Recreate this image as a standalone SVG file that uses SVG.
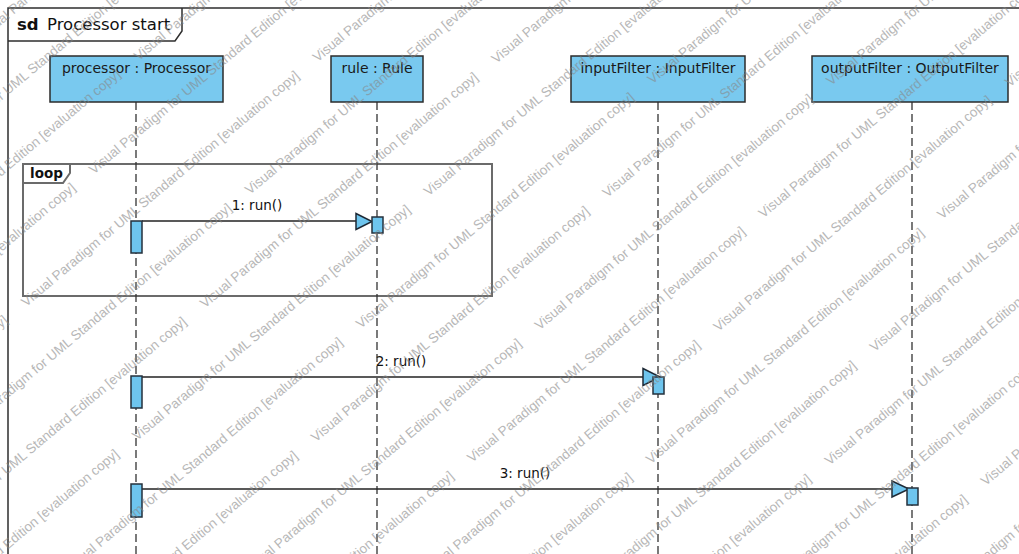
<svg xmlns="http://www.w3.org/2000/svg" width="1019" height="554" viewBox="0 0 1019 554">
<style>
.frame{fill:none;stroke:#2e2e2e;stroke-width:1.5}
.loopf{fill:none;stroke:#6b6b6b;stroke-width:2}
.title{font-family:"DejaVu Sans",sans-serif;font-size:16.5px;fill:#111}
.lbl{font-family:"DejaVu Sans",sans-serif;font-size:14px;fill:#1a1a1a;text-anchor:middle}
.head{fill:#79c9ef;stroke:#2b2b2b;stroke-width:1.5}
.act{fill:#6ec5ee;stroke:#25313c;stroke-width:1.5}
.life{stroke:#333;stroke-width:1.3;stroke-dasharray:8 4;fill:none}
.msg{stroke:#222;stroke-width:1.3;fill:none}
.arrow{fill:#6ec5ee;stroke:#1e2a36;stroke-width:1.5}
.mlbl{font-family:"DejaVu Sans",sans-serif;font-size:13.5px;fill:#111;text-anchor:middle}
.wm{font-family:"Liberation Sans",Arial,sans-serif;font-size:13.5px;fill:#888;opacity:.6}
</style>
<rect width="1019" height="554" fill="#fff"/>
<g id="frame-sd">
<rect class="frame" x="8" y="8" width="1040" height="580"/>
<path class="frame" d="M8,41 H175 L182,31 V8"/>
<text class="title" x="17" y="30" font-weight="bold">sd</text>
<text class="title" x="47" y="30">Processor start</text>
</g>
<g id="frame-loop">
<rect class="loopf" x="23" y="164" width="469" height="132"/>
<path class="loopf" d="M23,183 H63 L70,173 V164"/>
<text x="30" y="178" font-family="DejaVu Sans, sans-serif" font-size="13.5" font-weight="bold" fill="#111">loop</text>
</g>
<g id="processor">
<line class="life" x1="136" y1="102" x2="136" y2="554"/>
<rect class="head" x="50" y="56" width="173" height="46"/>
<text class="lbl" x="136.5" y="73">processor : Processor</text>
</g>
<g id="rule">
<line class="life" x1="377" y1="102" x2="377" y2="554"/>
<rect class="head" x="331" y="56" width="92" height="46"/>
<text class="lbl" x="377" y="73">rule : Rule</text>
</g>
<g id="inputFilter">
<line class="life" x1="658" y1="102" x2="658" y2="554"/>
<rect class="head" x="571" y="56" width="174" height="46"/>
<text class="lbl" x="658" y="73">inputFilter : InputFilter</text>
</g>
<g id="outputFilter">
<line class="life" x1="912" y1="102" x2="912" y2="554"/>
<rect class="head" x="812" y="56" width="196" height="46"/>
<text class="lbl" x="910" y="73">outputFilter : OutputFilter</text>
</g>
<g id="connectors">
<line class="msg" x1="142" y1="221" x2="357" y2="221"/>
<path class="arrow" d="M356,213.5 L372,221.5 L356,229.5 Z"/>
<text class="mlbl" x="257" y="210">1: run()</text>
<line class="msg" x1="142" y1="377" x2="644" y2="377"/>
<path class="arrow" d="M643,368.5 L660,377 L643,385.5 Z"/>
<text class="mlbl" x="401" y="366">2: run()</text>
<line class="msg" x1="142" y1="489" x2="893" y2="489"/>
<path class="arrow" d="M892,481 L909,489 L892,497 Z"/>
<text class="mlbl" x="525" y="478">3: run()</text>
</g>
<g id="activations">
<rect class="act" x="131" y="221" width="11" height="32"/>
<rect class="act" x="372" y="217" width="11" height="16"/>
<rect class="act" x="131" y="376" width="11" height="32"/>
<rect class="act" x="653" y="377" width="11" height="17"/>
<rect class="act" x="131" y="484" width="11" height="33"/>
<rect class="act" x="907" y="488" width="11" height="17"/>
</g>
<g id="watermark" transform="rotate(-40)">
<text class="wm" x="-420" y="20">Visual Paradigm for UML Standard Edition [evaluation copy]&#160;&#160;&#160;&#160;&#160;&#160;Visual Paradigm for UML Standard Edition [evaluation copy]&#160;&#160;&#160;&#160;&#160;&#160;Visual Paradigm for UML Standard Edition [evaluation copy]&#160;&#160;&#160;&#160;&#160;&#160;Visual Paradigm for UML Standard Edition [evaluation copy]&#160;&#160;&#160;&#160;&#160;&#160;Visual Paradigm for UML Standard Edition [evaluation copy]</text>
<text class="wm" x="-557" y="78">Visual Paradigm for UML Standard Edition [evaluation copy]&#160;&#160;&#160;&#160;&#160;&#160;Visual Paradigm for UML Standard Edition [evaluation copy]&#160;&#160;&#160;&#160;&#160;&#160;Visual Paradigm for UML Standard Edition [evaluation copy]&#160;&#160;&#160;&#160;&#160;&#160;Visual Paradigm for UML Standard Edition [evaluation copy]&#160;&#160;&#160;&#160;&#160;&#160;Visual Paradigm for UML Standard Edition [evaluation copy]</text>
<text class="wm" x="-694" y="136">Visual Paradigm for UML Standard Edition [evaluation copy]&#160;&#160;&#160;&#160;&#160;&#160;Visual Paradigm for UML Standard Edition [evaluation copy]&#160;&#160;&#160;&#160;&#160;&#160;Visual Paradigm for UML Standard Edition [evaluation copy]&#160;&#160;&#160;&#160;&#160;&#160;Visual Paradigm for UML Standard Edition [evaluation copy]&#160;&#160;&#160;&#160;&#160;&#160;Visual Paradigm for UML Standard Edition [evaluation copy]</text>
<text class="wm" x="-421" y="194">Visual Paradigm for UML Standard Edition [evaluation copy]&#160;&#160;&#160;&#160;&#160;&#160;Visual Paradigm for UML Standard Edition [evaluation copy]&#160;&#160;&#160;&#160;&#160;&#160;Visual Paradigm for UML Standard Edition [evaluation copy]&#160;&#160;&#160;&#160;&#160;&#160;Visual Paradigm for UML Standard Edition [evaluation copy]&#160;&#160;&#160;&#160;&#160;&#160;Visual Paradigm for UML Standard Edition [evaluation copy]</text>
<text class="wm" x="-558" y="252">Visual Paradigm for UML Standard Edition [evaluation copy]&#160;&#160;&#160;&#160;&#160;&#160;Visual Paradigm for UML Standard Edition [evaluation copy]&#160;&#160;&#160;&#160;&#160;&#160;Visual Paradigm for UML Standard Edition [evaluation copy]&#160;&#160;&#160;&#160;&#160;&#160;Visual Paradigm for UML Standard Edition [evaluation copy]&#160;&#160;&#160;&#160;&#160;&#160;Visual Paradigm for UML Standard Edition [evaluation copy]</text>
<text class="wm" x="-695" y="310">Visual Paradigm for UML Standard Edition [evaluation copy]&#160;&#160;&#160;&#160;&#160;&#160;Visual Paradigm for UML Standard Edition [evaluation copy]&#160;&#160;&#160;&#160;&#160;&#160;Visual Paradigm for UML Standard Edition [evaluation copy]&#160;&#160;&#160;&#160;&#160;&#160;Visual Paradigm for UML Standard Edition [evaluation copy]&#160;&#160;&#160;&#160;&#160;&#160;Visual Paradigm for UML Standard Edition [evaluation copy]</text>
<text class="wm" x="-422" y="368">Visual Paradigm for UML Standard Edition [evaluation copy]&#160;&#160;&#160;&#160;&#160;&#160;Visual Paradigm for UML Standard Edition [evaluation copy]&#160;&#160;&#160;&#160;&#160;&#160;Visual Paradigm for UML Standard Edition [evaluation copy]&#160;&#160;&#160;&#160;&#160;&#160;Visual Paradigm for UML Standard Edition [evaluation copy]&#160;&#160;&#160;&#160;&#160;&#160;Visual Paradigm for UML Standard Edition [evaluation copy]</text>
<text class="wm" x="-559" y="426">Visual Paradigm for UML Standard Edition [evaluation copy]&#160;&#160;&#160;&#160;&#160;&#160;Visual Paradigm for UML Standard Edition [evaluation copy]&#160;&#160;&#160;&#160;&#160;&#160;Visual Paradigm for UML Standard Edition [evaluation copy]&#160;&#160;&#160;&#160;&#160;&#160;Visual Paradigm for UML Standard Edition [evaluation copy]&#160;&#160;&#160;&#160;&#160;&#160;Visual Paradigm for UML Standard Edition [evaluation copy]</text>
<text class="wm" x="-696" y="484">Visual Paradigm for UML Standard Edition [evaluation copy]&#160;&#160;&#160;&#160;&#160;&#160;Visual Paradigm for UML Standard Edition [evaluation copy]&#160;&#160;&#160;&#160;&#160;&#160;Visual Paradigm for UML Standard Edition [evaluation copy]&#160;&#160;&#160;&#160;&#160;&#160;Visual Paradigm for UML Standard Edition [evaluation copy]&#160;&#160;&#160;&#160;&#160;&#160;Visual Paradigm for UML Standard Edition [evaluation copy]</text>
<text class="wm" x="-423" y="542">Visual Paradigm for UML Standard Edition [evaluation copy]&#160;&#160;&#160;&#160;&#160;&#160;Visual Paradigm for UML Standard Edition [evaluation copy]&#160;&#160;&#160;&#160;&#160;&#160;Visual Paradigm for UML Standard Edition [evaluation copy]&#160;&#160;&#160;&#160;&#160;&#160;Visual Paradigm for UML Standard Edition [evaluation copy]&#160;&#160;&#160;&#160;&#160;&#160;Visual Paradigm for UML Standard Edition [evaluation copy]</text>
<text class="wm" x="-560" y="600">Visual Paradigm for UML Standard Edition [evaluation copy]&#160;&#160;&#160;&#160;&#160;&#160;Visual Paradigm for UML Standard Edition [evaluation copy]&#160;&#160;&#160;&#160;&#160;&#160;Visual Paradigm for UML Standard Edition [evaluation copy]&#160;&#160;&#160;&#160;&#160;&#160;Visual Paradigm for UML Standard Edition [evaluation copy]&#160;&#160;&#160;&#160;&#160;&#160;Visual Paradigm for UML Standard Edition [evaluation copy]</text>
<text class="wm" x="-697" y="658">Visual Paradigm for UML Standard Edition [evaluation copy]&#160;&#160;&#160;&#160;&#160;&#160;Visual Paradigm for UML Standard Edition [evaluation copy]&#160;&#160;&#160;&#160;&#160;&#160;Visual Paradigm for UML Standard Edition [evaluation copy]&#160;&#160;&#160;&#160;&#160;&#160;Visual Paradigm for UML Standard Edition [evaluation copy]&#160;&#160;&#160;&#160;&#160;&#160;Visual Paradigm for UML Standard Edition [evaluation copy]</text>
<text class="wm" x="-424" y="716">Visual Paradigm for UML Standard Edition [evaluation copy]&#160;&#160;&#160;&#160;&#160;&#160;Visual Paradigm for UML Standard Edition [evaluation copy]&#160;&#160;&#160;&#160;&#160;&#160;Visual Paradigm for UML Standard Edition [evaluation copy]&#160;&#160;&#160;&#160;&#160;&#160;Visual Paradigm for UML Standard Edition [evaluation copy]&#160;&#160;&#160;&#160;&#160;&#160;Visual Paradigm for UML Standard Edition [evaluation copy]</text>
<text class="wm" x="-561" y="774">Visual Paradigm for UML Standard Edition [evaluation copy]&#160;&#160;&#160;&#160;&#160;&#160;Visual Paradigm for UML Standard Edition [evaluation copy]&#160;&#160;&#160;&#160;&#160;&#160;Visual Paradigm for UML Standard Edition [evaluation copy]&#160;&#160;&#160;&#160;&#160;&#160;Visual Paradigm for UML Standard Edition [evaluation copy]&#160;&#160;&#160;&#160;&#160;&#160;Visual Paradigm for UML Standard Edition [evaluation copy]</text>
<text class="wm" x="-698" y="832">Visual Paradigm for UML Standard Edition [evaluation copy]&#160;&#160;&#160;&#160;&#160;&#160;Visual Paradigm for UML Standard Edition [evaluation copy]&#160;&#160;&#160;&#160;&#160;&#160;Visual Paradigm for UML Standard Edition [evaluation copy]&#160;&#160;&#160;&#160;&#160;&#160;Visual Paradigm for UML Standard Edition [evaluation copy]&#160;&#160;&#160;&#160;&#160;&#160;Visual Paradigm for UML Standard Edition [evaluation copy]</text>
<text class="wm" x="-425" y="890">Visual Paradigm for UML Standard Edition [evaluation copy]&#160;&#160;&#160;&#160;&#160;&#160;Visual Paradigm for UML Standard Edition [evaluation copy]&#160;&#160;&#160;&#160;&#160;&#160;Visual Paradigm for UML Standard Edition [evaluation copy]&#160;&#160;&#160;&#160;&#160;&#160;Visual Paradigm for UML Standard Edition [evaluation copy]&#160;&#160;&#160;&#160;&#160;&#160;Visual Paradigm for UML Standard Edition [evaluation copy]</text>
<text class="wm" x="-562" y="948">Visual Paradigm for UML Standard Edition [evaluation copy]&#160;&#160;&#160;&#160;&#160;&#160;Visual Paradigm for UML Standard Edition [evaluation copy]&#160;&#160;&#160;&#160;&#160;&#160;Visual Paradigm for UML Standard Edition [evaluation copy]&#160;&#160;&#160;&#160;&#160;&#160;Visual Paradigm for UML Standard Edition [evaluation copy]&#160;&#160;&#160;&#160;&#160;&#160;Visual Paradigm for UML Standard Edition [evaluation copy]</text>
<text class="wm" x="-699" y="1006">Visual Paradigm for UML Standard Edition [evaluation copy]&#160;&#160;&#160;&#160;&#160;&#160;Visual Paradigm for UML Standard Edition [evaluation copy]&#160;&#160;&#160;&#160;&#160;&#160;Visual Paradigm for UML Standard Edition [evaluation copy]&#160;&#160;&#160;&#160;&#160;&#160;Visual Paradigm for UML Standard Edition [evaluation copy]&#160;&#160;&#160;&#160;&#160;&#160;Visual Paradigm for UML Standard Edition [evaluation copy]</text>
<text class="wm" x="-426" y="1064">Visual Paradigm for UML Standard Edition [evaluation copy]&#160;&#160;&#160;&#160;&#160;&#160;Visual Paradigm for UML Standard Edition [evaluation copy]&#160;&#160;&#160;&#160;&#160;&#160;Visual Paradigm for UML Standard Edition [evaluation copy]&#160;&#160;&#160;&#160;&#160;&#160;Visual Paradigm for UML Standard Edition [evaluation copy]&#160;&#160;&#160;&#160;&#160;&#160;Visual Paradigm for UML Standard Edition [evaluation copy]</text>
</g>
</svg>
